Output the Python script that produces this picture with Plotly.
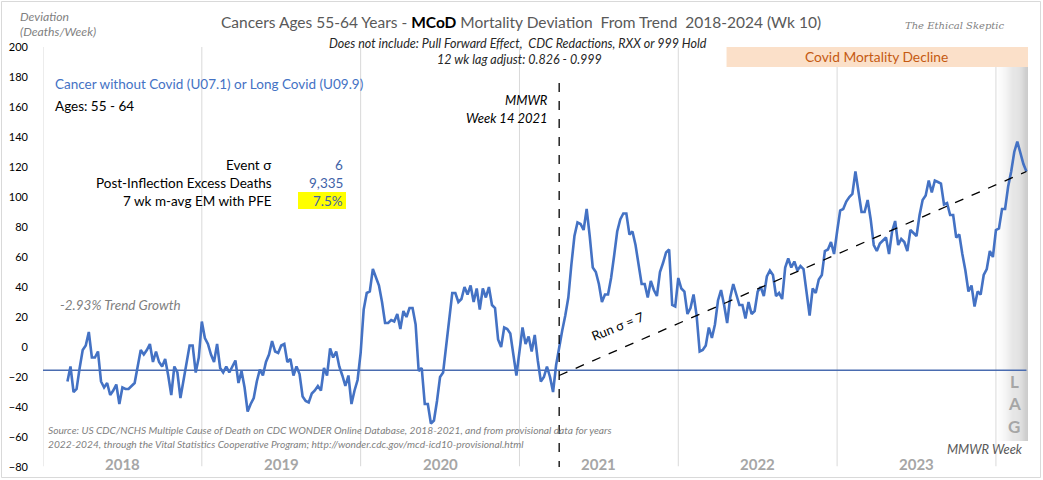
import plotly.graph_objects as go

# ---------------- data ----------------
years = [2018, 2019, 2020, 2021, 2022, 2023, 2024]
weeks_per_year = 52
first_week_2018 = 9

dev_2018 = [-23, -13, -30, -28, -14, -2, 1, 10, -7, -7, -3, -23, -27, -24, -32, -29, -25, -38, -27, -28,
            -28, -26, -24, -13, -2, -5, -2, 2, -10, -3, -10, -13, -8, -19, -32, -13, -17, -34, -22, -12,
            1, 1, -17, -7]
dev_2019 = [17, 6, 2, -5, -10, 2, -14, -17, -13, -17, -13, -9, -24, -16, -27, -43, -38, -34, -23, -15,
            -19, -10, -5, 4, -3, -4, 1, 2, -10, -8, -19, -13, -18, -33, -36, -37, -31, -29, -26, -29,
            -14, -19, -1, -7, -3, -13, -19, -26, -19, -38, -29, -22]
dev_2020 = [-4, 25, 36, 37, 52, 47, 41, 30, 16, 16, 18, 17, 22, 12, 24, 20, 26, 26, 15, -16,
            -14, -38, -38, -51, -49, -36, -20, -17, 1, 18, 36, 36, 30, 32, 40, 35, 41, 30, 39, 25,
            39, 33, 40, 28, 26, 5, 0, 13, 12, 9, -7, -19]
dev_2021 = [-3, 13, 2, 7, -3, 8, -9, -23, -20, -13, -20, -30, -12, 1, 11, 21, 33, 55, 74, 83,
            82, 78, 92, 74, 53, 50, 42, 30, 35, 35, 46, 61, 77, 85, 89, 89, 75, 77, 68, 55,
            42, 42, 33, 44, 38, 34, 50, 56, 63, 65, 28, 27]
dev_2022 = [46, 39, 37, 22, 26, 35, 21, -3, -2, 1, 13, 6, 15, 31, 38, 28, 16, 33, 42, 35,
            28, 28, 19, 30, 22, 24, 37, 40, 34, 47, 51, 48, 34, 36, 32, 53, 59, 53, 57, 51,
            54, 52, 35, 21, 39, 36, 45, 48, 64, 65, 70, 62]
dev_2023 = [77, 91, 92, 97, 100, 102, 117, 102, 90, 90, 98, 85, 68, 64, 69, 71, 73, 62, 77, 84,
            68, 72, 70, 64, 78, 76, 74, 88, 98, 101, 111, 103, 111, 110, 109, 95, 96, 88, 88, 73,
            75, 62, 51, 37, 41, 27, 37, 35, 48, 52, 64, 60]
dev_2024 = [78, 79, 92, 92, 107, 117, 130, 137, 130, 122, 117]

baseline_value = -15.5
trend_start = (2021, 14)
trend_values = [-19, 117]
inflection = (2021, 14)
y_ticks = list(range(-80, 201, 20))

stat_labels = ["Event σ", "Post-Inflection Excess Deaths", "7 wk m-avg EM with PFE"]
stat_values = ["6", "9,335", "7.5%"]

# ---------------- build series ----------------
series = [dev_2018, dev_2019, dev_2020, dev_2021, dev_2022, dev_2023, dev_2024]
xs, ys = [], []
for yr, vals in zip(years, series):
    first = first_week_2018 if yr == 2018 else 1
    base = (yr - years[0]) * weeks_per_year
    for k, v in enumerate(vals):
        xs.append(base + first - 1 + k)
        ys.append(v)


def week_index(yr, wk):
    return (yr - years[0]) * weeks_per_year + wk - 1


x_end = xs[-1]
t0 = week_index(*trend_start)
infl = week_index(*inflection)

BLUE = "#4472C4"
FONT = "Lato"

fig = go.Figure()
fig.add_trace(go.Scatter(x=[0, x_end], y=[baseline_value, baseline_value], mode="lines",
                         line=dict(color="#4A6CB0", width=1.3), hoverinfo="skip"))
fig.add_trace(go.Scatter(x=xs, y=ys, mode="lines", line=dict(color=BLUE, width=2.6),
                         name="Cancer without Covid"))
fig.add_trace(go.Scatter(x=[t0, x_end], y=trend_values, mode="lines",
                         line=dict(color="black", width=1.3, dash="dash"), hoverinfo="skip"))
fig.add_trace(go.Scatter(x=[infl, infl], y=[176, -84], mode="lines",
                         line=dict(color="black", width=1.3, dash="dash"), hoverinfo="skip",
                         cliponaxis=False))

# pixel helpers for decorations
L, R, T, B = 43, 1028, 47, 467
def px(x):
    return (x - L) / (R - L)
def py(y):
    return (B - y) / (B - T)

shapes = []
# LAG gradient
n = 30
lag_x0 = week_index(2024, 1)
for k in range(n):
    g = int(255 - (255 - 204) * (k / (n - 1)) ** 1.2)
    shapes.append(dict(type="rect", xref="x", yref="y",
                       x0=lag_x0 + (x_end + 0.5 - lag_x0) * k / n,
                       x1=lag_x0 + (x_end + 0.5 - lag_x0) * (k + 1) / n + 0.05,
                       y0=-62.7, y1=186.7, fillcolor=f"rgb({g},{g},{g})",
                       line=dict(width=0), layer="below"))
# year gridlines
for k in range(len(years)):
    xg = k * weeks_per_year
    shapes.append(dict(type="line", xref="x", yref="y", x0=xg, x1=xg, y0=-79.5, y1=200,
                       line=dict(color="#D9D9D9", width=1), layer="below"))
# covid decline box
shapes.append(dict(type="rect", xref="x", yref="y", x0=223.8, x1=x_end + 0.5, y0=186.7, y1=201.3,
                   fillcolor="#FBE0C9", line=dict(width=0), layer="below"))
# yellow highlight
shapes.append(dict(type="rect", xref="paper", yref="paper", x0=px(298), x1=px(346),
                   y0=py(209), y1=py(192), fillcolor="#FFFF00", line=dict(width=0), layer="below"))
# outer border
shapes.append(dict(type="rect", xref="paper", yref="paper", x0=px(1.5), x1=px(1040.5),
                   y0=py(477.5), y1=py(1.5), line=dict(color="#D9D9D9", width=1)))

ann = []
def A(text, x, y, xanchor="left", size=13, color="#000000", angle=0, family=FONT):
    ann.append(dict(text=text, xref="paper", yref="paper", x=px(x), y=py(y),
                    xanchor=xanchor, yanchor="middle", showarrow=False, textangle=angle,
                    borderpad=0, font=dict(family=family, size=size, color=color)))

A("Cancers Ages 55-64 Years - <span style='color:#000000'><b>MCoD</b></span> Mortality Deviation  From Trend  2018-2024 (Wk 10)",
  521, 22, "center", 15.5, "#595959")
A("<i>Does not include: Pull Forward Effect,  CDC Redactions, RXX or 999 Hold</i>", 518, 43, "center", 12.5, "#262626")
A("<i>12 wk lag adjust: 0.826 - 0.999</i>", 519, 59, "center", 12.5, "#262626")
A("<i>The Ethical Skeptic</i>", 955, 26, "center", 10, "#7F7F7F", family="DejaVu Serif")
A("<i>Deviation</i>", 19, 16, "left", 12.2, "#7F7F7F")
A("<i>(Deaths/Week)</i>", 19, 32, "left", 12.2, "#7F7F7F")
A("Cancer without Covid (U07.1) or Long Covid (U09.9)", 54, 84, "left", 13.5, BLUE)
A("Ages: 55 - 64", 54, 106, "left", 13.5, "#000000")
for i, (lab, val) in enumerate(zip(stat_labels, stat_values)):
    A(lab, 273, 165 + 18 * i, "right", 13.5, "#000000")
    A(val, 344, 165 + 18 * i, "right", 13.5, "#3F63A8")
A("<i>-2.93% Trend Growth</i>", 59, 305, "left", 13.5, "#7F7F7F")
A("Run σ = 7", 618, 326, "center", 13, "#000000", angle=-22)
A("<i>MMWR</i>", 549, 100, "right", 13, "#000000")
A("<i>Week 14 2021</i>", 549, 118, "right", 13, "#000000")
A("Covid Mortality Decline", 876, 56, "center", 13.8, "#C55A11")
for ch, yy in zip("LAG", [381, 403, 426]):
    A(f"<b>{ch}</b>", 1014, yy, "center", 17, "#A6A6A6")
A("<i>Source: US CDC/NCHS Multiple Cause of Death on CDC WONDER Online Database, 2018-2021, and from provisional data for years</i>",
  47, 430, "left", 10.2, "#7F7F7F")
A("<i>2022-2024, through the Vital Statistics Cooperative Program; http://wonder.cdc.gov/mcd-icd10-provisional.html</i>",
  47, 444, "left", 10.2, "#7F7F7F")
A("<i>MMWR Week</i>", 1024, 449, "right", 12.9, "#595959")
# year labels
for k, yr in enumerate(years[:-1]):
    ann.append(dict(text=f"<b>{yr}</b>", xref="x", yref="paper", x=k * weeks_per_year + weeks_per_year / 2,
                    y=py(464), xanchor="center", yanchor="middle", showarrow=False,
                    font=dict(family=FONT, size=15, color="#A6A6A6")))

fig.update_layout(
    width=1043, height=480, autosize=False,
    margin=dict(l=L, r=1043 - R, t=T, b=480 - B, pad=0, autoexpand=False),
    paper_bgcolor="white", plot_bgcolor="white",
    showlegend=False,
    shapes=shapes, annotations=ann,
    xaxis=dict(range=[0, x_end + 0.5], showticklabels=False, showgrid=False, zeroline=False,
               showline=False, ticks="", automargin=False),
    yaxis=dict(range=[-80, 200], tickvals=y_ticks, showgrid=False, zeroline=False, showline=False,
               ticks="", ticklabelstandoff=14, automargin=False,
               tickfont=dict(family=FONT, size=11, color="#000000")),
)

fig.write_html("out.html", config={"displayModeBar": False},
               post_script="document.body.style.margin='0';document.body.style.padding='0';")
